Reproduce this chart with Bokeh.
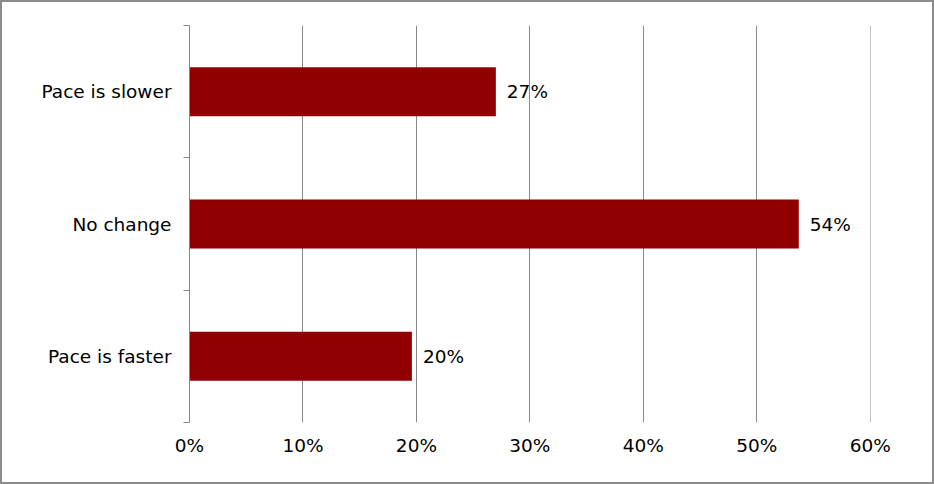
from bokeh.plotting import figure
from bokeh.models import ColumnDataSource, Range1d, FixedTicker, NumeralTickFormatter
from bokeh.core.properties import value
from bokeh.embed import file_html
from bokeh.resources import INLINE

categories = ["Pace is faster", "No change", "Pace is slower"]
shares = [19.6, 53.7, 27.0]
share_labels = ["20%", "54%", "27%"]
x_ticks = [0, 10, 20, 30, 40, 50, 60]

FONT = "DejaVu Sans"
FS = "18.5px"
GRAY = "#888888"
BAR = "#900000"

ypos = [i + 0.5 for i in range(len(categories))]
src = ColumnDataSource(dict(y=ypos, v=shares, lab=share_labels, cat=categories))

p = figure(width=934, height=484, output_backend="svg", toolbar_location=None,
           x_range=Range1d(0, 60.02), y_range=Range1d(0, len(categories)),
           min_border_left=187, min_border_right=66, min_border_top=23, min_border_bottom=64)
p.styles = {"border": "2px solid #8c8c8c", "box-sizing": "border-box"}
p.outline_line_color = None
p.background_fill_color = "white"

p.hbar(y="y", right="v", left=0, height=0.37, source=src, fill_color=BAR, line_color=None)
p.text(x="v", y="y", text="lab", source=src, x_offset=11, text_baseline="middle",
       text_align="left", text_font=value(FONT), text_font_size=FS, text_color="black")

# x axis
p.xaxis.ticker = FixedTicker(ticks=x_ticks)
p.xaxis.formatter = NumeralTickFormatter(format="0")
p.xaxis.major_label_overrides = {t: f"{t}%" for t in x_ticks}
p.xaxis.axis_line_color = None
p.xaxis.major_tick_line_color = None
p.xaxis.minor_tick_line_color = None
p.xaxis.major_label_standoff = 6
p.xaxis.major_label_text_font = FONT
p.xaxis.major_label_text_font_size = FS
p.xaxis.major_label_text_color = "black"

p.xgrid.ticker = FixedTicker(ticks=x_ticks)
p.xgrid.grid_line_color = GRAY
p.xgrid.grid_line_width = 1
p.ygrid.grid_line_color = None

# y axis
p.yaxis.ticker = FixedTicker(ticks=ypos, minor_ticks=list(range(len(categories) + 1)))
p.yaxis.major_label_overrides = {y: c for y, c in zip(ypos, categories)}
p.yaxis.axis_line_color = GRAY
p.yaxis.major_tick_line_color = None
p.yaxis.major_tick_out = 0
p.yaxis.major_tick_in = 0
p.yaxis.minor_tick_line_color = GRAY
p.yaxis.minor_tick_out = 6
p.yaxis.minor_tick_in = 0
p.yaxis.major_label_standoff = 12
p.yaxis.major_label_text_font = FONT
p.yaxis.major_label_text_font_size = FS
p.yaxis.major_label_text_color = "black"

open("out.html", "w").write(file_html(p, INLINE))
